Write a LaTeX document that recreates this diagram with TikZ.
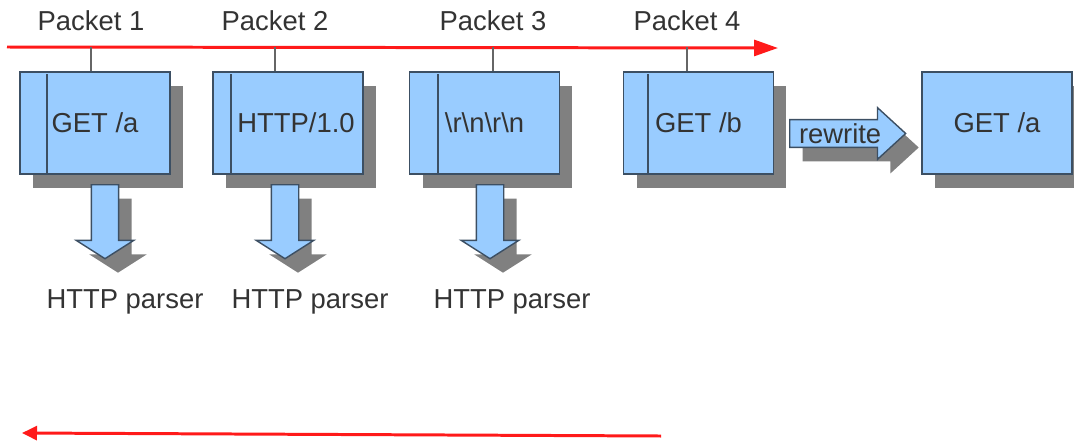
\documentclass[tikz,border=0pt]{standalone}
\usepackage{fontspec}
\setmainfont{Liberation Sans}
\usetikzlibrary{positioning,shapes.arrows,arrows.meta,calc,shadows}
\definecolor{boxfill}{HTML}{99CCFF}
\definecolor{edge}{HTML}{3C4F63}
\definecolor{shade}{HTML}{808080}
\definecolor{ink}{HTML}{333333}
\definecolor{wire}{HTML}{FF1A1A}
\definecolor{stemgray}{HTML}{666666}

\begin{document}
\begin{tikzpicture}[x=0.02cm,y=-0.02cm,
  font=\fontsize{15.6}{18}\selectfont,text=ink,
  sh/.style={drop shadow={shadow xshift=0.26cm,shadow yshift=-0.28cm,fill=shade,opacity=1}},
  pkt/.style={draw=edge,line width=1.1pt,fill=boxfill,minimum width=3cm,minimum height=2.04cm,inner sep=0,sh},
  down/.style={single arrow,draw=edge,line width=0.8pt,fill=boxfill,inner xsep=0.26cm,inner ysep=0pt,
    minimum height=1.48cm,single arrow head extend=0.3cm,
    single arrow tip angle=115,single arrow head indent=0pt,shape border rotate=270,anchor=tail,sh},
  rw/.style={single arrow,draw=edge,line width=0.8pt,fill=boxfill,inner xsep=0,inner ysep=0pt,
    text height=13pt,text depth=2pt,
    minimum height=2.32cm,single arrow head extend=0.24cm,
    single arrow tip angle=85,single arrow head indent=0pt,anchor=tail,sh},
  stem/.style={draw=stemgray,line width=0.9pt},
  flow/.style={draw=wire,line width=1.7pt}]
  \useasboundingbox (0,0) rectangle (1074,443);

  % the four packets
  \foreach \i/\x/\t in {1/95/{GET /a},2/288/{\hspace*{0.32cm}HTTP/1.0},
    3/484.5/{\textbackslash r\textbackslash n\textbackslash r\textbackslash n},4/698.5/{GET /b}}
    \node[pkt] (pkt\i) at (\x,123) {\t};
  \foreach \i/\d in {1/28,2/19,3/29,4/25}
    \draw[draw=edge,line width=1.1pt] ($(pkt\i.north west)+(\d,3)$) -- ($(pkt\i.south west)+(\d,0)$);

  % rewritten request
  \node[rw] (rew) at (789,133.5) {rewrite};
  \node[pkt] (out) at (997,123) {GET /a};

  % wire, labels
  \coordinate (ts) at (7,47);
  \coordinate (te) at (778,48);
  \draw[flow,-{Triangle[length=0.48cm,width=0.32cm]}] (ts) -- (te);
  \foreach \i/\x in {1/91,2/275,3/493,4/687}{
    \node (lbl\i) at (\x,21) {Packet \i};
    \draw[stem] (lbl\i |- ts) -- (lbl\i |- pkt\i.north);
  }

  % parsers
  \foreach \i/\x/\p in {1/105/125,2/285/310,3/490/512}{
    \node[down] (dn\i) at (\x,184) {};
    \node (par\i) at (\p,302) {HTTP parser};
  }

  \coordinate (bs) at (661,436);
  \coordinate (be) at (22,433);
  \draw[flow,-{Triangle[length=0.3cm,width=0.28cm]}] (bs) -- (be);
\end{tikzpicture}
\end{document}
